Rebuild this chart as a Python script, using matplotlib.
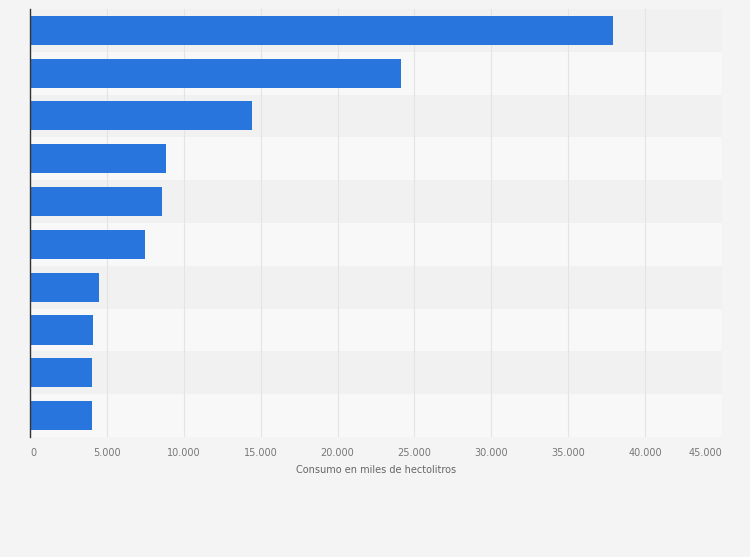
import matplotlib
matplotlib.use("Agg")
import matplotlib.pyplot as plt
from matplotlib.ticker import FuncFormatter

# Data (values in thousands of hectolitres), top to bottom
values = [37950, 24120, 14450, 8850, 8590, 7500, 4510, 4120, 4050, 4050]
xticks = [0, 5000, 10000, 15000, 20000, 25000, 30000, 35000, 40000, 45000]
xlabel = "Consumo en miles de hectolitros"

fig = plt.figure(figsize=(7.5, 5.57), dpi=100)
fig.patch.set_facecolor("#f4f4f4")
ax = fig.add_axes([0.04, 0.2155, 0.9225, 0.7685])
ax.set_facecolor("#f4f4f4")

n = len(values)
ypos = list(range(n))
# alternating row bands
for i in ypos:
    ax.axhspan(i - 0.5, i + 0.5, color="#f1f1f1" if i % 2 == 0 else "#f8f8f8", zorder=0, lw=0)

ax.barh(ypos, values, height=0.68, color="#2875dd", zorder=3)
ax.set_ylim(n - 0.5, -0.5)
ax.set_xlim(0, 45000)
ax.set_xticks(xticks)
ax.xaxis.set_major_formatter(FuncFormatter(lambda v, p: f"{int(v):,}".replace(",", ".")))
ax.set_yticks([])
ax.grid(axis="x", color="#e4e4e4", lw=0.8, zorder=1)
ax.tick_params(axis="x", length=0, labelsize=7, labelcolor="#777777", pad=8)
labels = ax.get_xticklabels()
labels[0].set_ha("left")
labels[-1].set_ha("right")
for s in ["top", "right", "bottom"]:
    ax.spines[s].set_visible(False)
ax.spines["left"].set_color("#333333")
ax.spines["left"].set_linewidth(1)
ax.spines["left"].set_zorder(4)
ax.set_xlabel(xlabel, fontsize=7, color="#666666", labelpad=5)

fig.savefig("out.png", dpi=100, facecolor=fig.get_facecolor())
